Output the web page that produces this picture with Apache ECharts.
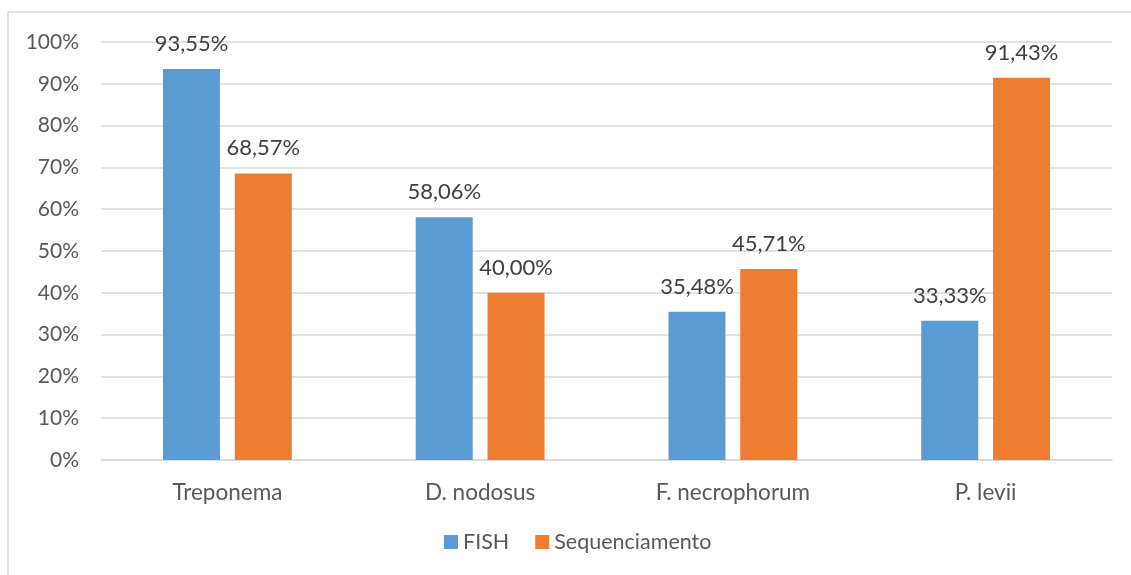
<!DOCTYPE html>
<html>
<head>
<meta charset="utf-8">
<script src="https://cdn.jsdelivr.net/npm/echarts@6/dist/echarts.min.js"></script>
<style>
html,body{margin:0;padding:0;background:#fff;}
#chart{width:1131px;height:575px;}
</style>
</head>
<body>
<div id="chart"></div>
<script>
const categories = ['Treponema', 'D. nodosus', 'F. necrophorum', 'P. levii'];
const fishValues = [93.55, 58.06, 35.48, 33.33];
const seqValues = [68.57, 40.00, 45.71, 91.43];
const yTicks = [0, 10, 20, 30, 40, 50, 60, 70, 80, 90, 100];

const FONT = 'Lato, "Open Sans", "DejaVu Sans", sans-serif';
const fmt = v => v.toFixed(2).replace('.', ',') + '%';

const chart = echarts.init(document.getElementById('chart'));
chart.setOption({
  animation: false,
  backgroundColor: '#ffffff',
  graphic: [{
    type: 'rect',
    shape: { x: 8, y: 12, width: 1200, height: 700 },
    style: { fill: 'none', stroke: '#d9d9d9', lineWidth: 1.5 },
    silent: true, z: -1
  }],
  grid: { left: 101, right: 19, top: 42, bottom: 115 },
  legend: {
    bottom: 17,
    left: 439,
    itemWidth: 14, itemHeight: 14, itemGap: 26,
    icon: 'rect',
    textStyle: { color: '#595959', fontSize: 21.5, fontFamily: FONT },
    data: ['FISH', 'Sequenciamento']
  },
  xAxis: {
    type: 'category',
    data: categories,
    axisLine: { show: true, lineStyle: { color: '#d9d9d9', width: 1.5 } },
    axisTick: { show: false },
    axisLabel: { color: '#595959', fontSize: 22.5, fontFamily: FONT, margin: 21 }
  },
  yAxis: {
    type: 'value',
    min: yTicks[0], max: yTicks[yTicks.length - 1], interval: 10,
    axisLine: { show: false },
    axisTick: { show: false },
    splitLine: { lineStyle: { color: '#d9d9d9', width: 1.5 } },
    axisLabel: { color: '#595959', fontSize: 21, fontFamily: FONT, margin: 22, formatter: v => v + '%' }
  },
  series: [{
    name: 'FISH', type: 'bar', data: fishValues,
    barWidth: 57, barGap: '26%',
    itemStyle: { color: '#5B9BD5' },
    label: { show: true, position: 'top', distance: 14, color: '#404040', fontSize: 22, fontFamily: FONT, formatter: p => fmt(p.value) }
  }, {
    name: 'Sequenciamento', type: 'bar', data: seqValues,
    barWidth: 57,
    itemStyle: { color: '#ED7D31' },
    label: { show: true, position: 'top', distance: 14, color: '#404040', fontSize: 22, fontFamily: FONT, formatter: p => fmt(p.value) }
  }]
});
</script>
</body>
</html>
